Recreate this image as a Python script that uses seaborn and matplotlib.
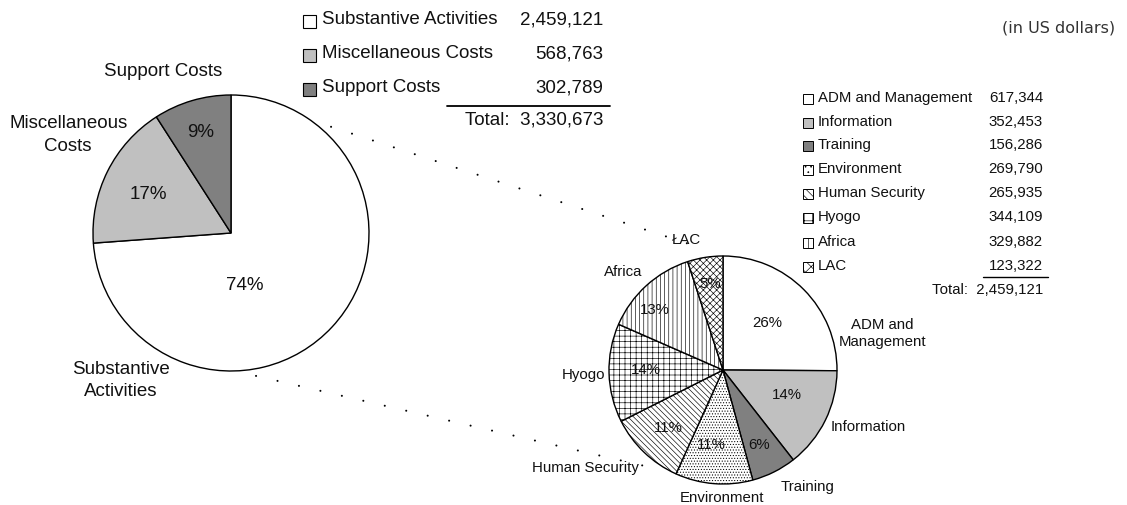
import numpy as np
import matplotlib
matplotlib.use("Agg")
import matplotlib.pyplot as plt
import matplotlib.patches as mpatches
import seaborn as sns

# ---------------- data ----------------
main_categories = ["Substantive Activities", "Miscellaneous Costs", "Support Costs"]
main_values = [2459121, 568763, 302789]
main_pct_labels = ["74%", "17%", "9%"]
main_pie_labels = ["Substantive\nActivities", "Miscellaneous\nCosts", "Support Costs"]
main_total = "3,330,673"

sub_categories = ["ADM and Management", "Information", "Training", "Environment",
                  "Human Security", "Hyogo", "Africa", "LAC"]
sub_values = [617344, 352453, 156286, 269790, 265935, 344109, 329882, 123322]
sub_pct_labels = ["26%", "14%", "6%", "11%", "11%", "14%", "13%", "5%"]
sub_pie_labels = ["ADM and\nManagement", "Information", "Training", "Environment",
                  "Human Security", "Hyogo", "Africa", "ŁAC"]
sub_total = "2,459,121"

# ---------------- styles ----------------
main_colors = ["#ffffff", "#c0c0c0", "#808080"]
sub_colors = ["#ffffff", "#c0c0c0", "#808080", "#ffffff", "#ffffff", "#ffffff", "#ffffff", "#ffffff"]
sub_hatches = [None, None, None, "......", "\\\\\\\\\\\\", "+++", "||||", "xxxxx"]
legend_hatches = [None, None, None, "...", "\\\\\\\\", "++", "|||", "xxx"]

sns.set_theme(style="white")
plt.rcParams["font.family"] = ["Liberation Sans", "DejaVu Sans"]
plt.rcParams["hatch.linewidth"] = 0.45

W, H = 1127, 505
fig = plt.figure(figsize=(W / 100, H / 100), dpi=100)
fig.patch.set_facecolor("white")

# overlay axes in pixel coordinates for legend tables and connectors
ax_o = fig.add_axes([0, 0, 1, 1])
ax_o.set_xlim(0, W)
ax_o.set_ylim(H, 0)
ax_o.axis("off")


def pie_axes(cx, cy, r):
    return fig.add_axes([(cx - r) / W, (H - cy - r) / H, 2 * r / W, 2 * r / H])


# ---------------- left pie ----------------
LCX, LCY, LR = 231, 233, 138
ax_l = pie_axes(LCX, LCY, LR)
ax_l.pie(main_values, colors=main_colors, startangle=90, counterclock=False,
         wedgeprops=dict(edgecolor="black", linewidth=1.0))
ax_l.set_xlim(-1, 1)
ax_l.set_ylim(-1, 1)
ax_l.set_aspect("equal")
ax_l.axis("off")

main_pct_pos = [(0.10, -0.38), (-0.60, 0.28), (-0.22, 0.73)]
main_lab_pos = [(-0.80, -1.07), (-1.18, 0.71), (-0.49, 1.17)]
for txt, (x, y) in zip(main_pct_labels, main_pct_pos):
    ax_l.text(x, y, txt, ha="center", va="center", fontsize=13.5, color="#111111")
for txt, (x, y) in zip(main_pie_labels, main_lab_pos):
    ax_l.text(x, y, txt, ha="center", va="center", fontsize=13.5, color="#111111",
              linespacing=1.4)

# ---------------- right pie ----------------
RCX, RCY, RR = 723, 370, 114
ax_r = pie_axes(RCX, RCY, RR)
wedges, _ = ax_r.pie(sub_values, colors=sub_colors, startangle=90, counterclock=False,
                     wedgeprops=dict(edgecolor="black", linewidth=1.0))
for w, h in zip(wedges, sub_hatches):
    if h:
        w.set_hatch(h)
ax_r.set_xlim(-1, 1)
ax_r.set_ylim(-1, 1)
ax_r.set_aspect("equal")
ax_r.axis("off")

sub_pct_pos = [(0.39, 0.41), (0.56, -0.22), (0.32, -0.66), (-0.10, -0.66),
               (-0.48, -0.51), (-0.68, 0.0), (-0.60, 0.53), (-0.11, 0.75)]
sub_lab_pos = [(1.40, 0.32), (1.27, -0.50), (0.74, -1.03), (-0.01, -1.12),
               (-1.21, -0.86), (-1.22, -0.04), (-0.88, 0.86), (-0.32, 1.14)]
for txt, (x, y) in zip(sub_pct_labels, sub_pct_pos):
    ax_r.text(x, y, txt, ha="center", va="center", fontsize=10.8, color="#111111")
for txt, (x, y) in zip(sub_pie_labels, sub_lab_pos):
    ax_r.text(x, y, txt, ha="center", va="center", fontsize=10.8, color="#111111",
              linespacing=1.3)

# ---------------- dotted connectors ----------------
def polar_px(cx, cy, r, ang_deg, k):
    a = np.deg2rad(ang_deg)
    return cx + k * r * np.cos(a), cy - k * r * np.sin(a)

lw = 1.5
spacing = 22 / (100 / 72) / lw
for (a1, k1), (a2, k2) in [((55, 1.0), (104.7, 1.14)), ((-88.5, 1.0), (-124.8, 1.05))]:
    x1, y1 = polar_px(LCX, LCY, LR, a1, k1)
    x2, y2 = polar_px(RCX, RCY, RR, a2, k2)
    ax_o.plot([x1, x2], [y1, y2], color="black", lw=lw,
              linestyle=(0.01, (0.01, spacing)), dash_capstyle="round")

# ---------------- left legend table ----------------
row_y = [20, 54, 88]
for y, cat, val, col in zip(row_y, main_categories, main_values, main_colors):
    ax_o.add_patch(mpatches.Rectangle((303, y - 5), 13, 13, facecolor=col,
                                      edgecolor="black", lw=0.8))
    ax_o.text(322, y, cat, ha="left", va="center", fontsize=13.5, color="#111111")
    ax_o.text(603, y, f"{val:,}", ha="right", va="center", fontsize=13.5, color="#111111")
ax_o.plot([447, 610], [106, 106], color="black", lw=1.3)
ax_o.text(603, 120, f"Total:  {main_total}", ha="right", va="center", fontsize=13.5,
          color="#111111")

# ---------------- right legend table ----------------
row_y2 = [98, 122, 145, 169, 193, 217, 242, 266]
for y, cat, val, col, h in zip(row_y2, sub_categories, sub_values, sub_colors, legend_hatches):
    ax_o.add_patch(mpatches.Rectangle((803, y - 4), 10, 10, facecolor=col,
                                      edgecolor="black", lw=0.7, hatch=h))
    ax_o.text(818, y, cat, ha="left", va="center", fontsize=10.8, color="#111111")
    ax_o.text(1043, y, f"{val:,}", ha="right", va="center", fontsize=10.8, color="#111111")
ax_o.plot([983, 1048], [277, 277], color="black", lw=1.0)
ax_o.text(1043, 290, f"Total:  {sub_total}", ha="right", va="center", fontsize=10.8,
          color="#111111")

ax_o.text(1115, 28, "(in US dollars)", ha="right", va="center", fontsize=11.5,
          color="#333333", family="DejaVu Sans")

fig.savefig("out.png", dpi=100, facecolor="white")
